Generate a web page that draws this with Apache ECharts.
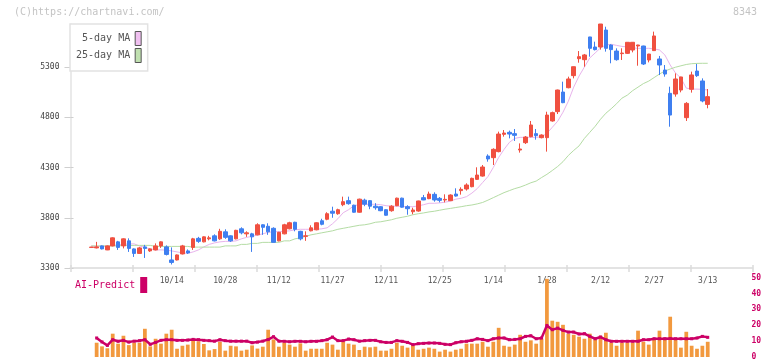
<!DOCTYPE html>
<html><head><meta charset="utf-8">
<script src="https://cdn.jsdelivr.net/npm/echarts@6/dist/echarts.min.js"></script>
<style>html,body{margin:0;padding:0;background:#fff}#c{width:772px;height:361px}</style>
</head><body><div id="c"></div>
<script>
// ---- data ----
const dates = ['9/20','9/24','9/25','9/26','9/27','9/30','10/1','10/2','10/3','10/4',
 '10/7','10/8','10/9','10/10','10/11','10/14','10/15','10/16','10/17','10/18',
 '10/21','10/22','10/23','10/24','10/25','10/28','10/29','10/30','10/31','11/1',
 '11/5','11/6','11/7','11/8','11/11','11/12','11/13','11/14','11/15','11/18',
 '11/19','11/20','11/21','11/22','11/26','11/27','11/28','11/29','12/2','12/3',
 '12/4','12/5','12/6','12/9','12/10','12/11','12/12','12/13','12/16','12/17',
 '12/18','12/19','12/20','12/23','12/24','12/25','12/26','12/27','12/30','1/6',
 '1/7','1/8','1/9','1/10','1/13','1/14','1/15','1/16','1/17','1/20',
 '1/21','1/22','1/23','1/24','1/27','1/28','1/29','1/30','1/31','2/3',
 '2/4','2/5','2/6','2/7','2/10','2/12','2/13','2/14','2/17','2/18',
 '2/19','2/20','2/21','2/25','2/26','2/27','2/28','3/3','3/4','3/5',
 '3/6','3/7','3/10','3/11','3/12','3/13'];
const tickLabels = ['10/14','10/28','11/12','11/27','12/11','12/25','1/14','1/28','2/12','2/27','3/13'];
const priceTicks = [3300,3800,4300,4800,5300];

const openP = [3505,3500,3520,3480,3520,3560,3520,3570,3490,3445,
 3510,3470,3480,3520,3510,3380,3380,3440,3470,3505,
 3595,3560,3590,3620,3590,3660,3620,3590,3690,3640,
 3640,3630,3730,3715,3695,3570,3640,3690,3755,3665,
 3615,3670,3680,3770,3785,3865,3840,3930,3970,3925,
 3855,3975,3970,3915,3910,3880,3870,3920,3995,3910,
 3860,3867,4000,3990,4033,3993,3977,3970,4036,4070,
 4086,4109,4182,4215,4414,4398,4458,4630,4650,4637,
 4474,4547,4607,4637,4597,4597,4763,4856,5051,5094,
 5214,5383,5373,5599,5499,5499,5668,5519,5459,5433,
 5436,5469,5509,5509,5370,5463,5380,5270,5038,5031,
 5071,4796,5078,5260,5161,4928];
const closeP = [3508,3510,3490,3520,3600,3505,3590,3495,3445,3500,
 3495,3490,3520,3560,3435,3355,3430,3520,3450,3590,
 3565,3610,3600,3570,3665,3605,3570,3675,3650,3650,
 3610,3730,3705,3660,3555,3655,3730,3750,3685,3590,
 3620,3700,3750,3735,3840,3845,3880,3960,3940,3855,
 3985,3935,3915,3900,3870,3825,3915,3995,3905,3890,
 3877,3967,3977,4036,3977,3973,3983,4026,4016,4083,
 4126,4192,4225,4305,4385,4481,4633,4643,4633,4620,
 4484,4603,4723,4617,4623,4822,4846,5071,4945,5181,
 5303,5403,5420,5486,5473,5728,5486,5473,5373,5439,
 5546,5546,5519,5330,5429,5609,5320,5230,4822,5181,
 5201,4938,5221,5214,4962,5005];
const lowP = [3503,3495,3485,3478,3515,3480,3495,3460,3410,3440,
 3400,3460,3475,3500,3425,3335,3375,3435,3440,3480,
 3550,3555,3575,3565,3580,3590,3560,3585,3635,3610,
 3460,3625,3630,3630,3555,3565,3635,3685,3665,3575,
 3570,3665,3675,3725,3775,3800,3830,3915,3930,3850,
 3850,3915,3885,3880,3865,3820,3860,3915,3900,3830,
 3835,3860,3975,3985,3960,3953,3953,3966,4010,4030,
 4070,4103,4176,4209,4358,4325,4451,4607,4590,4564,
 4448,4534,4600,4577,4590,4458,4756,4832,4940,5088,
 5187,5343,5303,5403,5465,5473,5453,5337,5363,5370,
 5430,5446,5313,5320,5346,5460,5220,5204,4706,5005,
 5048,4763,5045,5201,4949,4889];
const highP = [3510,3560,3525,3525,3605,3570,3595,3595,3495,3510,
 3530,3495,3545,3565,3525,3505,3435,3530,3485,3600,
 3610,3615,3620,3635,3690,3685,3625,3680,3705,3665,
 3650,3745,3735,3745,3705,3660,3740,3760,3760,3670,
 3665,3725,3755,3790,3855,3910,3890,4010,4010,3930,
 3990,3990,3975,3945,3915,3885,3925,4000,4000,3925,
 3900,3970,4027,4060,4053,4006,4033,4033,4093,4103,
 4143,4199,4302,4325,4431,4491,4657,4673,4667,4683,
 4540,4613,4763,4683,4630,4855,4856,5075,5154,5204,
 5305,5459,5430,5600,5552,5728,5701,5526,5486,5486,
 5548,5548,5521,5512,5431,5652,5410,5320,5104,5237,
 5203,4951,5254,5330,5187,5081];

const ma5 = [3520,3515,3515,3515,3525,3530,3535,3540,3540,3520,
 3505,3490,3480,3480,3478,3470,3460,3450,3446,3460,
 3480,3510,3535,3550,3560,3565,3565,3570,3590,3605,
 3615,3628,3640,3655,3660,3662,3665,3670,3680,3685,
 3685,3685,3685,3690,3700,3740,3790,3850,3880,3920,
 3930,3934,3934,3934,3930,3920,3915,3915,3912,3910,
 3910,3918,3930,3944,3944,3948,3955,3965,3985,3994,
 4010,4045,4090,4150,4210,4300,4400,4480,4550,4590,
 4600,4600,4600,4600,4605,4640,4700,4760,4850,4960,
 5100,5210,5300,5390,5440,5490,5520,5526,5515,5505,
 5500,5490,5486,5486,5486,5480,5470,5420,5320,5240,
 5190,5090,5080,5080,5078,5071];
const ma25 = [3520,3520,3520,3520,3520,3520,3525,3525,3525,3525,
 3525,3525,3515,3515,3515,3515,3515,3515,3515,3508,
 3508,3508,3508,3508,3508,3520,3520,3520,3535,3535,
 3545,3545,3555,3555,3555,3555,3570,3570,3590,3600,
 3615,3630,3640,3650,3660,3670,3685,3695,3705,3715,
 3725,3730,3740,3755,3760,3770,3780,3795,3805,3815,
 3830,3840,3848,3858,3865,3875,3885,3893,3902,3910,
 3920,3927,3938,3952,3975,4000,4025,4050,4070,4090,
 4105,4125,4148,4165,4200,4232,4270,4310,4358,4420,
 4470,4515,4590,4650,4710,4780,4840,4885,4935,4990,
 5020,5065,5100,5135,5160,5195,5230,5260,5280,5298,
 5312,5325,5333,5336,5337,5337];

const volume = [null,9.0,6.7,5.5,14.7,8.4,13.4,7.5,9.0,9.0,
 17.8,6.7,11.5,8.4,14.7,17.2,5.2,7.1,7.8,10.9,
 9.9,8.2,4.2,5.0,9.6,4.0,7.1,6.7,4.0,4.6,
 7.3,5.3,6.5,17.2,11.1,6.5,9.0,7.8,6.5,8.6,
 4.0,5.2,5.2,5.2,9.0,7.8,4.6,9.6,8.4,7.8,
 4.4,6.5,6.1,6.5,4.0,4.0,5.2,9.0,7.1,5.9,
 7.8,4.6,5.2,5.9,5.2,3.4,4.6,3.4,4.6,5.2,
 8.4,8.4,8.4,9.6,6.5,9.6,18.4,7.1,6.5,7.8,
 14.0,9.6,10.5,8.4,11.5,49.3,22.9,22.2,20.3,14.7,
 14.0,12.8,11.5,14.7,10.9,13.4,15.3,9.0,7.1,9.0,
 9.0,9.0,16.6,9.6,7.8,11.5,16.6,12.2,25.4,10.9,
 5.9,15.9,7.1,5.2,7.1,9.6];
const aiPredict = [null,12.0,9.5,7.3,10.9,9.9,10.5,9.4,10.0,10.3,
 10.9,8.0,9.2,10.5,10.9,10.9,10.5,10.5,10.7,11.1,
 10.9,10.5,10.3,10.0,10.9,10.3,10.0,10.0,10.0,10.0,
 9.0,9.4,10.0,11.0,12.8,10.0,9.9,9.6,9.9,9.9,
 9.6,9.9,9.9,10.3,10.9,12.6,10.3,10.3,11.3,10.9,
 10.0,10.3,10.5,10.5,9.6,9.2,9.2,10.3,9.9,9.2,
 7.8,8.4,8.6,8.8,8.8,8.6,8.0,7.8,9.0,9.6,
 9.9,10.5,11.5,11.1,10.3,11.5,12.0,12.0,10.9,11.1,
 11.5,13.0,13.4,11.5,12.0,19.9,17.2,18.2,16.8,15.7,
 15.7,14.5,14.7,13.0,11.5,12.6,10.9,9.9,9.9,9.9,
 9.9,9.9,9.9,10.9,10.9,11.5,11.5,11.5,11.7,11.5,
 11.5,11.5,11.5,12.0,13.0,12.4];

// ---- chart ----
const MONO = '"DejaVu Sans Mono","Liberation Mono",monospace';
const RED = '#f05040', BLUE = '#3f7ff0', CRIMSON = '#cc0066';
const candles = dates.map((d, i) => [openP[i], closeP[i], lowP[i], highP[i]]);
const PMIN = 3300, PMAX = 5728;

const chart = echarts.init(document.getElementById('c'), null, {renderer: 'canvas'});
chart.setOption({
  animation: false,
  backgroundColor: '#fff',
  graphic: [
    {type: 'text', left: 14, top: 7, style: {text: '(C)https://chartnavi.com/', fill: '#c4c4c4', font: '10px ' + MONO}},
    {type: 'text', right: 15, top: 7, style: {text: '8343', fill: '#c4c4c4', font: '10px ' + MONO}}
  ],
  legend: [
    {
      data: [
        {name: '5-day MA', itemStyle: {color: '#f0c0f0', borderColor: '#555', borderWidth: 1}},
        {name: '25-day MA', itemStyle: {color: '#c0e0b0', borderColor: '#555', borderWidth: 1}}
      ],
      orient: 'vertical', align: 'right', left: 70, top: 24,
      padding: [7, 6, 8, 6], itemGap: 2, itemWidth: 6, itemHeight: 14, icon: 'rect',
      backgroundColor: '#fff', borderColor: '#e2e2e2', borderWidth: 1.5,
      textStyle: {fontFamily: MONO, fontSize: 10, color: '#555'},
      selectedMode: false, z: 10
    },
    {
      data: [{name: 'AI-Predict', itemStyle: {color: CRIMSON}}],
      align: 'right', left: 75, top: 277, padding: 0, itemWidth: 7, itemHeight: 16, icon: 'rect',
      textStyle: {fontFamily: MONO, fontSize: 10, color: CRIMSON},
      selectedMode: false
    }
  ],
  grid: [
    {left: 88.6, right: 61.6, top: 24, bottom: 93},
    {left: 70.5, right: 19.7, top: 24, bottom: 93},
    {left: 88.6, right: 61.6, top: 277.7, height: 79.6},
    {left: 70.5, right: 19.7, top: 24, bottom: 93}
  ],
  xAxis: [
    {type: 'category', gridIndex: 0, data: dates, boundaryGap: true,
     axisLine: {show: false}, axisTick: {show: false}, splitLine: {show: false},
     axisLabel: {interval: 0, margin: 9, fontFamily: MONO, fontSize: 8, color: '#555',
       formatter: v => tickLabels.includes(v) ? v : ''}},
    {type: 'value', gridIndex: 1, min: 0, max: 11, interval: 1, position: 'bottom',
     axisLine: {show: true, lineStyle: {color: '#e3e3e3', width: 2}},
     axisTick: {show: true, inside: true, length: 3, lineStyle: {color: '#dcdcdc', width: 1.5}},
     axisLabel: {show: false}, splitLine: {show: false}},
    {type: 'category', gridIndex: 2, data: dates, show: false},
    {type: 'value', gridIndex: 3, min: 0, max: 11, interval: 1, position: 'bottom',
     axisLine: {show: false},
     axisTick: {show: true, inside: false, length: 4, lineStyle: {color: '#dcdcdc', width: 1.5}},
     axisLabel: {show: false}, splitLine: {show: false}}
  ],
  yAxis: [
    {type: 'value', gridIndex: 0, min: PMIN, max: PMAX, show: false},
    {type: 'value', gridIndex: 1, min: PMIN, max: PMAX,
     axisLine: {show: true, lineStyle: {color: '#e3e3e3', width: 1.5}},
     axisTick: {show: true, length: 6, customValues: priceTicks, lineStyle: {color: '#cfcfcf'}},
     axisLabel: {customValues: priceTicks, margin: 11, fontFamily: MONO, fontSize: 8, color: '#444',
       formatter: v => String(v)},
     splitLine: {show: false}},
    {type: 'value', gridIndex: 2, min: 0, max: 50, interval: 10, position: 'right', offset: 36,
     axisLine: {show: false}, axisTick: {show: false}, splitLine: {show: false},
     axisLabel: {margin: 5, fontFamily: MONO, fontSize: 8, color: CRIMSON, fontWeight: 'bold'}},
    {type: 'value', gridIndex: 3, min: PMIN, max: PMAX,
     axisLine: {show: false}, axisLabel: {show: false}, splitLine: {show: false},
     axisTick: {show: true, inside: true, length: 3, customValues: priceTicks, lineStyle: {color: '#cfcfcf'}}}
  ],
  series: [
    {name: '5-day MA', type: 'line', xAxisIndex: 0, yAxisIndex: 0, data: ma5, symbol: 'none',
     lineStyle: {color: '#e8b4ec', width: 1}, itemStyle: {color: '#e8b4ec'}, z: 1},
    {name: '25-day MA', type: 'line', xAxisIndex: 0, yAxisIndex: 0, data: ma25, symbol: 'none',
     lineStyle: {color: '#b4dca4', width: 1}, itemStyle: {color: '#b4dca4'}, z: 1},
    {name: 'price', type: 'candlestick', xAxisIndex: 0, yAxisIndex: 0, data: candles, barWidth: 4,
     itemStyle: {color: RED, color0: BLUE, borderColor: RED, borderColor0: BLUE, borderWidth: 1}, z: 3},
    {name: 'volume', type: 'bar', xAxisIndex: 2, yAxisIndex: 2, data: volume, barWidth: '70%',
     itemStyle: {color: '#f2993e'}},
    {name: 'AI-Predict', type: 'line', xAxisIndex: 2, yAxisIndex: 2, data: aiPredict,
     symbol: 'rect', symbolSize: 3, showSymbol: true,
     lineStyle: {color: CRIMSON, width: 2.5}, itemStyle: {color: CRIMSON}, z: 4}
  ]
});
</script></body></html>
